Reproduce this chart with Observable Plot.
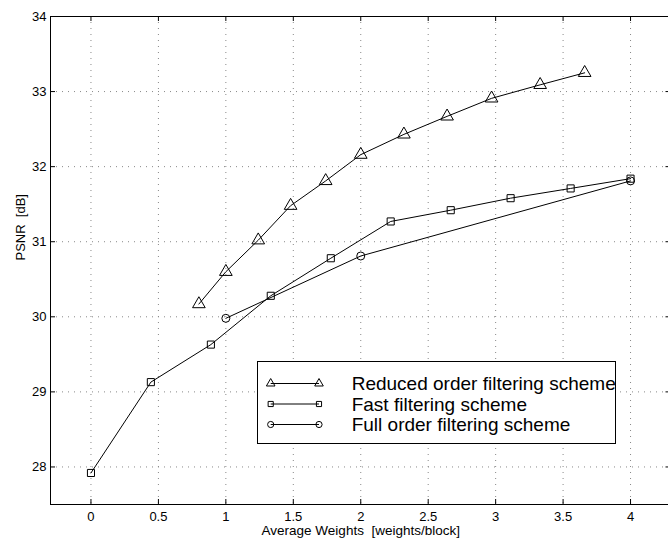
<!DOCTYPE html>
<html><head><meta charset="utf-8">
<script src="https://cdn.jsdelivr.net/npm/d3@7"></script>
<script src="https://cdn.jsdelivr.net/npm/@observablehq/plot@0.6"></script>
<style>
html,body{margin:0;padding:0;background:#fff;overflow:hidden}
#wrap{position:relative;width:668px;height:539px;overflow:hidden}
#legend{position:absolute;left:0;top:0;pointer-events:none}
</style>
</head><body><div id="wrap"></div>
<script>
// ---- data ----
const seriesNames = ["Reduced order filtering scheme", "Fast filtering scheme", "Full order filtering scheme"];
const seriesSymbols = ["triangle", "square", "circle"];

const xReduced = [0.80, 1.00, 1.24, 1.48, 1.74, 2.00, 2.32, 2.64, 2.97, 3.33, 3.66];
const yReduced = [30.17, 30.60, 31.02, 31.48, 31.81, 32.16, 32.43, 32.67, 32.91, 33.09, 33.25];

const xFast = [0, 0.444, 0.889, 1.333, 1.778, 2.222, 2.667, 3.111, 3.556, 4.0];
const yFast = [27.92, 29.13, 29.63, 30.28, 30.78, 31.27, 31.42, 31.58, 31.71, 31.84];

const xFull = [1.0, 2.0, 4.0];
const yFull = [29.98, 30.81, 31.81];

const xTicks = [0, 0.5, 1, 1.5, 2, 2.5, 3, 3.5, 4];
const yTicks = [28, 29, 30, 31, 32, 33, 34];
const yGrid = [28, 29, 30, 31, 32, 33];

const xLabel = "Average Weights  [weights/block]";
const yLabel = "PSNR  [dB]";

// ---- layout ----
const W = 668, H = 539;
const mL = 50, mR = -2.5, mT = 16, mB = 35;
const plotW = W - mL - mR, plotH = H - mT - mB;
const font = "'Liberation Sans', Arial, Helvetica, sans-serif";

const toRows = (xs, ys) => xs.map((x, i) => ({x, y: ys[i]}));
const reduced = toRows(xReduced, yReduced);
const fast = toRows(xFast, yFast);
const full = toRows(xFull, yFull);

const symR = {triangle: 4.7, square: 4.0, circle: 4.0};
const legR = {triangle: 3.2, square: 2.9, circle: 3.1};

const series = [reduced, fast, full];

const marks = [
  // dotted grid
  Plot.ruleX(xTicks, {x: d => d, stroke: "#888", strokeWidth: 1, strokeDasharray: "1,5"}),
  Plot.ruleY(yGrid, {y: d => d, stroke: "#888", strokeWidth: 1, strokeDasharray: "1,5"}),
  Plot.frame({stroke: "black", strokeWidth: 1}),
  // inward ticks on all sides
  Plot.ruleX(xTicks, {x: d => d, insetTop: plotH - 5, stroke: "black"}),
  Plot.ruleX(xTicks, {x: d => d, insetBottom: plotH - 5, stroke: "black"}),
  Plot.ruleY(yTicks, {y: d => d, insetRight: plotW - 5, stroke: "black"}),
  Plot.ruleY(yTicks, {y: d => d, insetLeft: plotW - 5, stroke: "black"}),
  // tick labels
  Plot.axisX(xTicks, {tickSize: 0, tickPadding: 7, fontSize: 13, label: null, tickFormat: d => String(d)}),
  Plot.axisY(yTicks, {tickSize: 0, tickPadding: 4, fontSize: 13, label: null, tickFormat: d => String(d)}),
  // axis titles
  Plot.text([xLabel], {text: d => d, frameAnchor: "bottom", dy: 30, fontSize: 13.5, fill: "black"}),
  Plot.text([yLabel], {text: d => d, frameAnchor: "left", dx: -30, rotate: -90, fontSize: 13, fill: "black"})
];

series.forEach((rows, i) => {
  marks.push(Plot.line(rows, {x: "x", y: "y", stroke: "black", strokeWidth: 1}));
  marks.push(Plot.dot(rows, {x: "x", y: "y", symbol: () => seriesSymbols[i], r: symR[seriesSymbols[i]], stroke: "black", strokeWidth: 1, fill: "none"}));
});

const chart = Plot.plot({
  width: W, height: H,
  marginLeft: mL, marginRight: mR, marginTop: mT, marginBottom: mB,
  x: {domain: [-0.3, 4.3], axis: null},
  y: {domain: [27.5, 34], axis: null},
  symbol: {domain: seriesSymbols, range: seriesSymbols},
  style: {background: "white", overflow: "hidden", fontFamily: font, color: "black"},
  marks
});
document.getElementById("wrap").appendChild(chart);

// ---- legend (drawn as an overlay box like the reference) ----
const ns = "http://www.w3.org/2000/svg";
const leg = document.createElementNS(ns, "svg");
leg.setAttribute("id", "legend");
leg.setAttribute("width", W);
leg.setAttribute("height", H);
const box = {x: 257.5, y: 361.5, w: 358, h: 82};
const rect = document.createElementNS(ns, "rect");
Object.entries({x: box.x, y: box.y, width: box.w, height: box.h, fill: "white", stroke: "black", "stroke-width": 1})
  .forEach(([k, v]) => rect.setAttribute(k, v));
leg.appendChild(rect);
const rowY = [383.5, 404, 424.5];
const lx1 = 270.7, lx2 = 319, tx = 351.7;
const symMap = {triangle: d3.symbolTriangle, square: d3.symbolSquare, circle: d3.symbolCircle};
seriesNames.forEach((name, i) => {
  const y = rowY[i];
  const ln = document.createElementNS(ns, "line");
  Object.entries({x1: lx1, x2: lx2, y1: y, y2: y, stroke: "black", "stroke-width": 1}).forEach(([k, v]) => ln.setAttribute(k, v));
  leg.appendChild(ln);
  const s = seriesSymbols[i];
  const r = legR[s];
  const p = d3.symbol(symMap[s], Math.PI * r * r)();
  [lx1, lx2].forEach(x => {
    const path = document.createElementNS(ns, "path");
    Object.entries({d: p, transform: `translate(${x},${y})`, fill: "none", stroke: "black", "stroke-width": 1}).forEach(([k, v]) => path.setAttribute(k, v));
    leg.appendChild(path);
  });
  const t = document.createElementNS(ns, "text");
  Object.entries({x: tx, y: y + 6.6, "font-size": 19, "font-family": font, fill: "black"}).forEach(([k, v]) => t.setAttribute(k, v));
  t.textContent = name;
  leg.appendChild(t);
});
document.getElementById("wrap").appendChild(leg);
</script></body></html>
